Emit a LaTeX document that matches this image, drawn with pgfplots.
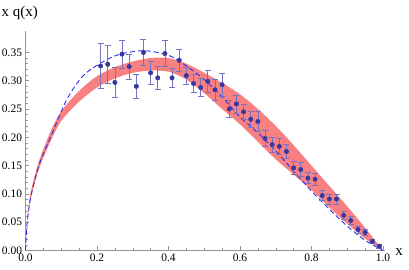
\documentclass[border=0pt]{standalone}
\usepackage{pgfplots}
\usepackage{pgfplotstable}
\pgfplotsset{compat=1.18}
\usepgfplotslibrary{fillbetween}
\usepackage{fontspec}
\setmainfont{Liberation Serif}
\definecolor{bandred}{RGB}{248,128,128}
\definecolor{dashblue}{RGB}{45,45,250}
\definecolor{ptblue}{RGB}{55,55,160}
\definecolor{barblue}{RGB}{115,115,195}
\definecolor{axgray}{RGB}{150,150,150}
\pgfplotstableread{
x y e
0.21 0.326 0.040
0.23 0.329 0.034
0.25 0.297 0.026
0.27 0.347 0.025
0.29 0.325 0.022
0.31 0.290 0.021
0.33 0.350 0.023
0.35 0.314 0.021
0.37 0.305 0.021
0.39 0.348 0.023
0.41 0.305 0.017
0.43 0.336 0.020
0.45 0.309 0.015
0.47 0.295 0.016
0.49 0.288 0.016
0.51 0.299 0.020
0.53 0.284 0.018
0.55 0.293 0.020
0.57 0.250 0.015
0.59 0.259 0.016
0.61 0.245 0.014
0.63 0.232 0.014
0.65 0.228 0.017
0.67 0.198 0.014
0.69 0.187 0.013
0.71 0.184 0.015
0.73 0.175 0.013
0.75 0.146 0.011
0.77 0.143 0.012
0.79 0.128 0.010
0.81 0.126 0.011
0.83 0.097 0.009
0.85 0.091 0.009
0.87 0.091 0.009
0.89 0.062 0.007
0.91 0.053 0.007
0.93 0.037 0.006
0.95 0.032 0.005
0.97 0.016 0.004
0.99 0.0076 0.003
}\datatable
\begin{document}
\begin{tikzpicture}
\begin{axis}[
  anchor=origin, at={(0,0)},
  scale only axis, width=359.3bp, height=219.6bp,
  xmin=0, xmax=1.005, ymin=0, ymax=0.388,
  axis x line=bottom, axis y line=left,
  axis line style={draw=axgray, line width=0.6bp, -},
  tick align=inside,
  xtick={0,0.2,0.4,0.6,0.8,1.0}, minor x tick num=3,
  ytick={0,0.05,0.10,0.15,0.20,0.25,0.30,0.35}, minor y tick num=4,
  major tick length=4bp, minor tick length=2.2bp,
  tick style={draw=axgray, line width=0.5bp},
  ticklabel style={font=\fontsize{11.5}{13}\selectfont},
  /pgf/number format/assume math mode=true,
  xticklabel style={/pgf/number format/.cd, fixed, fixed zerofill, precision=1},
  yticklabel style={/pgf/number format/.cd, fixed, fixed zerofill, precision=2},
  clip=false,
]
\addplot[name path=up, draw=none, smooth] coordinates {
(0,0) (0.004,0.048) (0.01,0.085) (0.02,0.118) (0.04,0.162) (0.07,0.210)
(0.1,0.246) (0.15,0.282) (0.2,0.308) (0.25,0.324) (0.3,0.334) (0.35,0.340)
(0.4,0.340) (0.45,0.330) (0.5,0.314) (0.55,0.296) (0.6,0.276) (0.65,0.250)
(0.7,0.220) (0.75,0.186) (0.8,0.150) (0.85,0.114) (0.9,0.078) (0.95,0.040)
(0.98,0.016) (1.0,0)};
\addplot[name path=lo, draw=none, smooth] coordinates {
(0,0) (0.004,0.042) (0.01,0.075) (0.02,0.105) (0.04,0.148) (0.07,0.193)
(0.1,0.229) (0.15,0.263) (0.2,0.288) (0.25,0.304) (0.3,0.314) (0.35,0.318)
(0.4,0.316) (0.45,0.302) (0.5,0.278) (0.55,0.250) (0.6,0.223) (0.65,0.192)
(0.7,0.161) (0.75,0.134) (0.8,0.107) (0.85,0.076) (0.9,0.047) (0.95,0.021)
(0.98,0.008) (1.0,0)};
\addplot[bandred, draw=none] fill between[of=up and lo];
\addplot[dashblue, line width=0.9bp, dash pattern=on 5bp off 3bp, smooth] coordinates {
(0,0) (0.004,0.045) (0.012,0.085) (0.022,0.115) (0.04,0.155) (0.07,0.200)
(0.115,0.266) (0.16,0.308) (0.21,0.331) (0.26,0.346) (0.33,0.353) (0.40,0.345)
(0.45,0.326) (0.50,0.302) (0.55,0.271) (0.60,0.236) (0.65,0.208) (0.70,0.176)
(0.75,0.140) (0.80,0.105) (0.85,0.073) (0.90,0.043) (0.95,0.018) (1.0,0)};
\addplot[only marks, mark=none, barblue,
  error bars/.cd, y dir=both, y explicit, error mark=none,
  error bar style={barblue, line width=0.7bp}]
  table[x=x, y=y, y error=e] {\datatable};
\addplot[only marks, mark=-, mark size=3bp, barblue, mark options={line width=0.7bp}]
  table[x=x, y expr=\thisrow{y}+\thisrow{e}] {\datatable};
\addplot[only marks, mark=-, mark size=3bp, barblue, mark options={line width=0.7bp}]
  table[x=x, y expr=\thisrow{y}-\thisrow{e}] {\datatable};
\addplot[only marks, mark=*, mark size=2.2bp, color=ptblue]
  table[x=x, y=y] {\datatable};
\end{axis}
\node[anchor=west, font=\fontsize{15}{18}\selectfont, inner sep=0pt] at (-24bp,238bp) {x q(x)};
\node[font=\fontsize{15}{18}\selectfont, inner sep=0pt] at (373.5bp,-2bp) {x};
\pgfresetboundingbox
\path[use as bounding box] (-25.5bp,-19.5bp) rectangle (383.5bp,250.5bp);
\end{tikzpicture}
\end{document}
